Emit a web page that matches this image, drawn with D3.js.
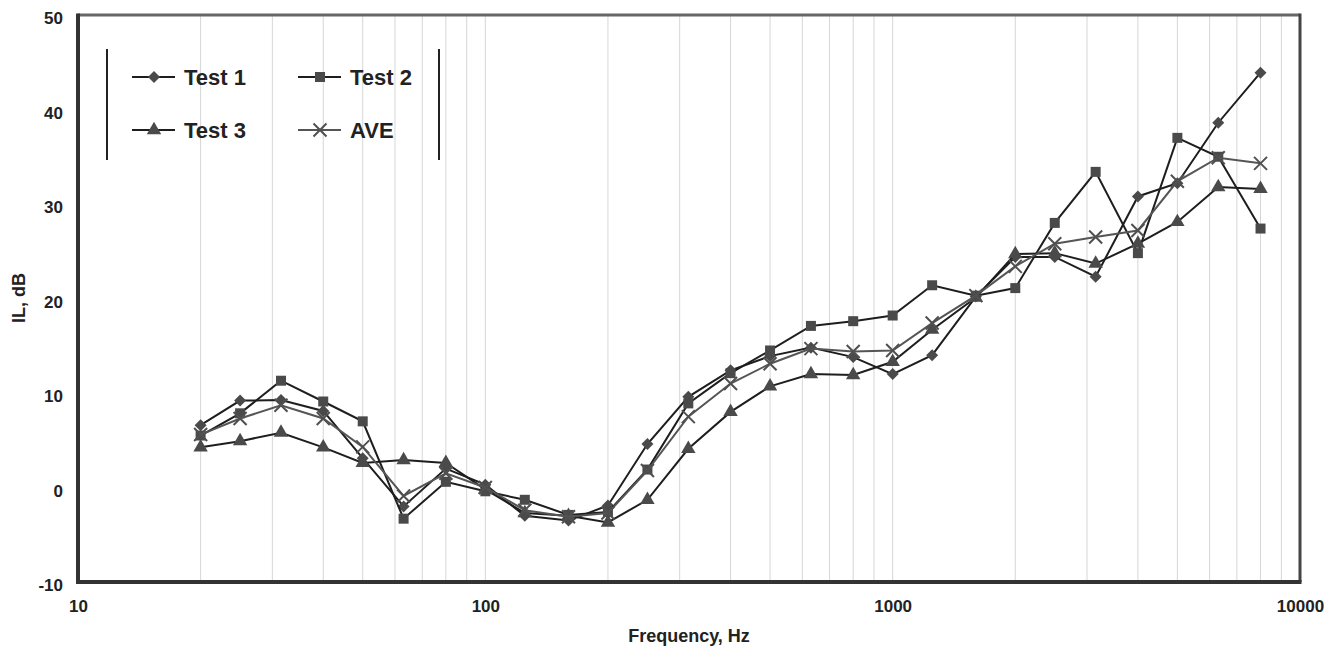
<!DOCTYPE html>
<html>
<head>
<meta charset="utf-8">
<script src="https://cdn.jsdelivr.net/npm/d3@7"></script>
<style>
  html, body { margin: 0; padding: 0; background: #fff; }
  svg { display: block; }
  text { font-family: "Liberation Sans", Arial, sans-serif; font-weight: bold; fill: #222; }
</style>
</head>
<body>
<svg id="chart" width="1343" height="650"></svg>
<script>
// ---- data ----
const freqs = [20,25,31.5,40,50,63,80,100,125,160,200,250,315,400,500,630,800,1000,1250,1600,2000,2500,3150,4000,5000,6300,8000];
const test1 = [6.6,9.2,9.25,8.1,3.1,-2.0,2.0,0.3,-3.0,-3.5,-1.9,4.6,9.6,12.4,13.9,14.8,13.8,12.0,14.0,20.2,24.4,24.4,22.3,30.8,32.2,38.6,43.9];
const test2 = [5.5,7.85,11.3,9.1,7.0,-3.3,0.6,-0.4,-1.3,-2.9,-2.6,1.9,8.9,12.1,14.5,17.1,17.6,18.2,21.4,20.3,21.1,28.0,33.4,24.8,37.0,35.0,27.4];
const test3 = [4.25,4.9,5.8,4.25,2.6,2.9,2.6,-0.2,-2.7,-3.0,-3.7,-1.3,4.1,8.0,10.7,12.0,11.9,13.3,16.7,20.1,24.7,24.8,23.7,25.8,28.1,31.8,31.6];
const ave   = [5.6,7.3,8.7,7.3,4.3,-0.9,1.5,0.0,-2.4,-3.1,-2.7,1.8,7.5,11.0,13.1,14.7,14.4,14.5,17.4,20.3,23.4,25.8,26.5,27.2,32.4,34.9,34.3];
const xTicks = [10,100,1000,10000];
const yTicks = [-10,0,10,20,30,40,50];
const gridFreqs = [20,30,40,50,60,70,80,90,100,200,300,400,500,600,700,800,900,1000,2000,3000,4000,5000,6000,7000,8000,9000];
const seriesNames = ["Test 1","Test 2","Test 3","AVE"];

// ---- layout ----
const L = 78, R = 1300, T = 15, B = 582;
const svg = d3.select("#chart");
const x = d3.scaleLog().domain([10,10000]).range([L,R]);
const y = d3.scaleLinear().domain([-10,50]).range([B,T]);
const plainFmt = d => String(d);

// gridlines
svg.append("g").selectAll("line").data(gridFreqs).join("line")
  .attr("x1", d => x(d)).attr("x2", d => x(d))
  .attr("y1", T).attr("y2", B)
  .attr("stroke", "#d6d6d6").attr("stroke-width", 1);

// axes
const yAxis = svg.append("g").attr("transform", `translate(${L},0)`)
  .call(d3.axisLeft(y).tickValues(yTicks).tickSize(0).tickPadding(15).tickFormat(plainFmt));
yAxis.select(".domain").remove();
yAxis.selectAll("text").attr("font-size", 17).attr("dy", "0.5em")
  .style("font-family", '"Liberation Sans", Arial, sans-serif').style("font-weight", "bold").attr("fill", "#222");

const xAxis = svg.append("g").attr("transform", `translate(0,${B})`)
  .call(d3.axisBottom(x).tickValues(xTicks).tickSize(0).tickPadding(18).tickFormat(plainFmt));
xAxis.select(".domain").remove();
xAxis.selectAll("text").attr("font-size", 17)
  .style("font-family", '"Liberation Sans", Arial, sans-serif').style("font-weight", "bold").attr("fill", "#222");

// plot frame
svg.append("line").attr("x1", L).attr("x2", R).attr("y1", T).attr("y2", T).attr("stroke", "#666").attr("stroke-width", 3);
svg.append("line").attr("x1", R).attr("x2", R).attr("y1", T-1.5).attr("y2", B).attr("stroke", "#444").attr("stroke-width", 3);
svg.append("line").attr("x1", L).attr("x2", L).attr("y1", T-1.5).attr("y2", B+2).attr("stroke", "#333").attr("stroke-width", 4);
svg.append("line").attr("x1", L-2).attr("x2", R+1.5).attr("y1", B).attr("y2", B).attr("stroke", "#333").attr("stroke-width", 4);

// axis titles
svg.append("text").attr("x", 689).attr("y", 642).attr("text-anchor", "middle").attr("font-size", 18).text("Frequency, Hz");
svg.append("text").attr("transform", "translate(25,298) rotate(-90)").attr("text-anchor", "middle").attr("font-size", 18).text("IL, dB");

// markers
const markerFill = "#4a4a4a";
function drawMarker(g, type, cx, cy) {
  if (type === 0) {
    g.append("path").attr("d", d3.symbol(d3.symbolSquare, 72)()).attr("transform", `translate(${cx},${cy}) rotate(45)`).attr("fill", markerFill);
  } else if (type === 1) {
    g.append("path").attr("d", d3.symbol(d3.symbolSquare, 100)()).attr("transform", `translate(${cx},${cy})`).attr("fill", markerFill);
  } else if (type === 2) {
    g.append("path").attr("d", d3.symbol(d3.symbolTriangle, 90)()).attr("transform", `translate(${cx},${cy})`).attr("fill", markerFill);
  } else {
    const s = 6.5;
    g.append("path").attr("d", `M${cx-s},${cy-s}L${cx+s},${cy+s}M${cx-s},${cy+s}L${cx+s},${cy-s}`)
      .attr("stroke", "#505050").attr("stroke-width", 2).attr("fill", "none");
  }
}

const allSeries = [test1, test2, test3, ave];
const lineColors = ["#1e1e1e", "#1e1e1e", "#1e1e1e", "#555"];
const line = d3.line().x(d => x(d[0])).y(d => y(d[1]));
allSeries.forEach((vals, i) => {
  const pts = freqs.map((f, j) => [f, vals[j]]);
  const g = svg.append("g");
  g.append("path").attr("d", line(pts)).attr("fill", "none").attr("stroke", lineColors[i]).attr("stroke-width", 2);
  pts.forEach(p => drawMarker(g, i, x(p[0]), y(p[1])));
});

// legend
const lg = svg.append("g");
lg.append("line").attr("x1", 107).attr("x2", 107).attr("y1", 49).attr("y2", 160).attr("stroke", "#222").attr("stroke-width", 2);
lg.append("line").attr("x1", 439).attr("x2", 439).attr("y1", 49).attr("y2", 160).attr("stroke", "#222").attr("stroke-width", 2);
const legPos = [[132, 77], [298, 77], [132, 130], [298, 130]];
seriesNames.forEach((name, i) => {
  const [lx, ly] = legPos[i];
  lg.append("line").attr("x1", lx).attr("x2", lx + 43).attr("y1", ly).attr("y2", ly).attr("stroke", lineColors[i]).attr("stroke-width", 2);
  drawMarker(lg, i, lx + 22, ly);
  lg.append("text").attr("x", lx + 52).attr("y", ly).attr("dy", "0.36em").attr("font-size", 22).text(name);
});
</script>
</body>
</html>
